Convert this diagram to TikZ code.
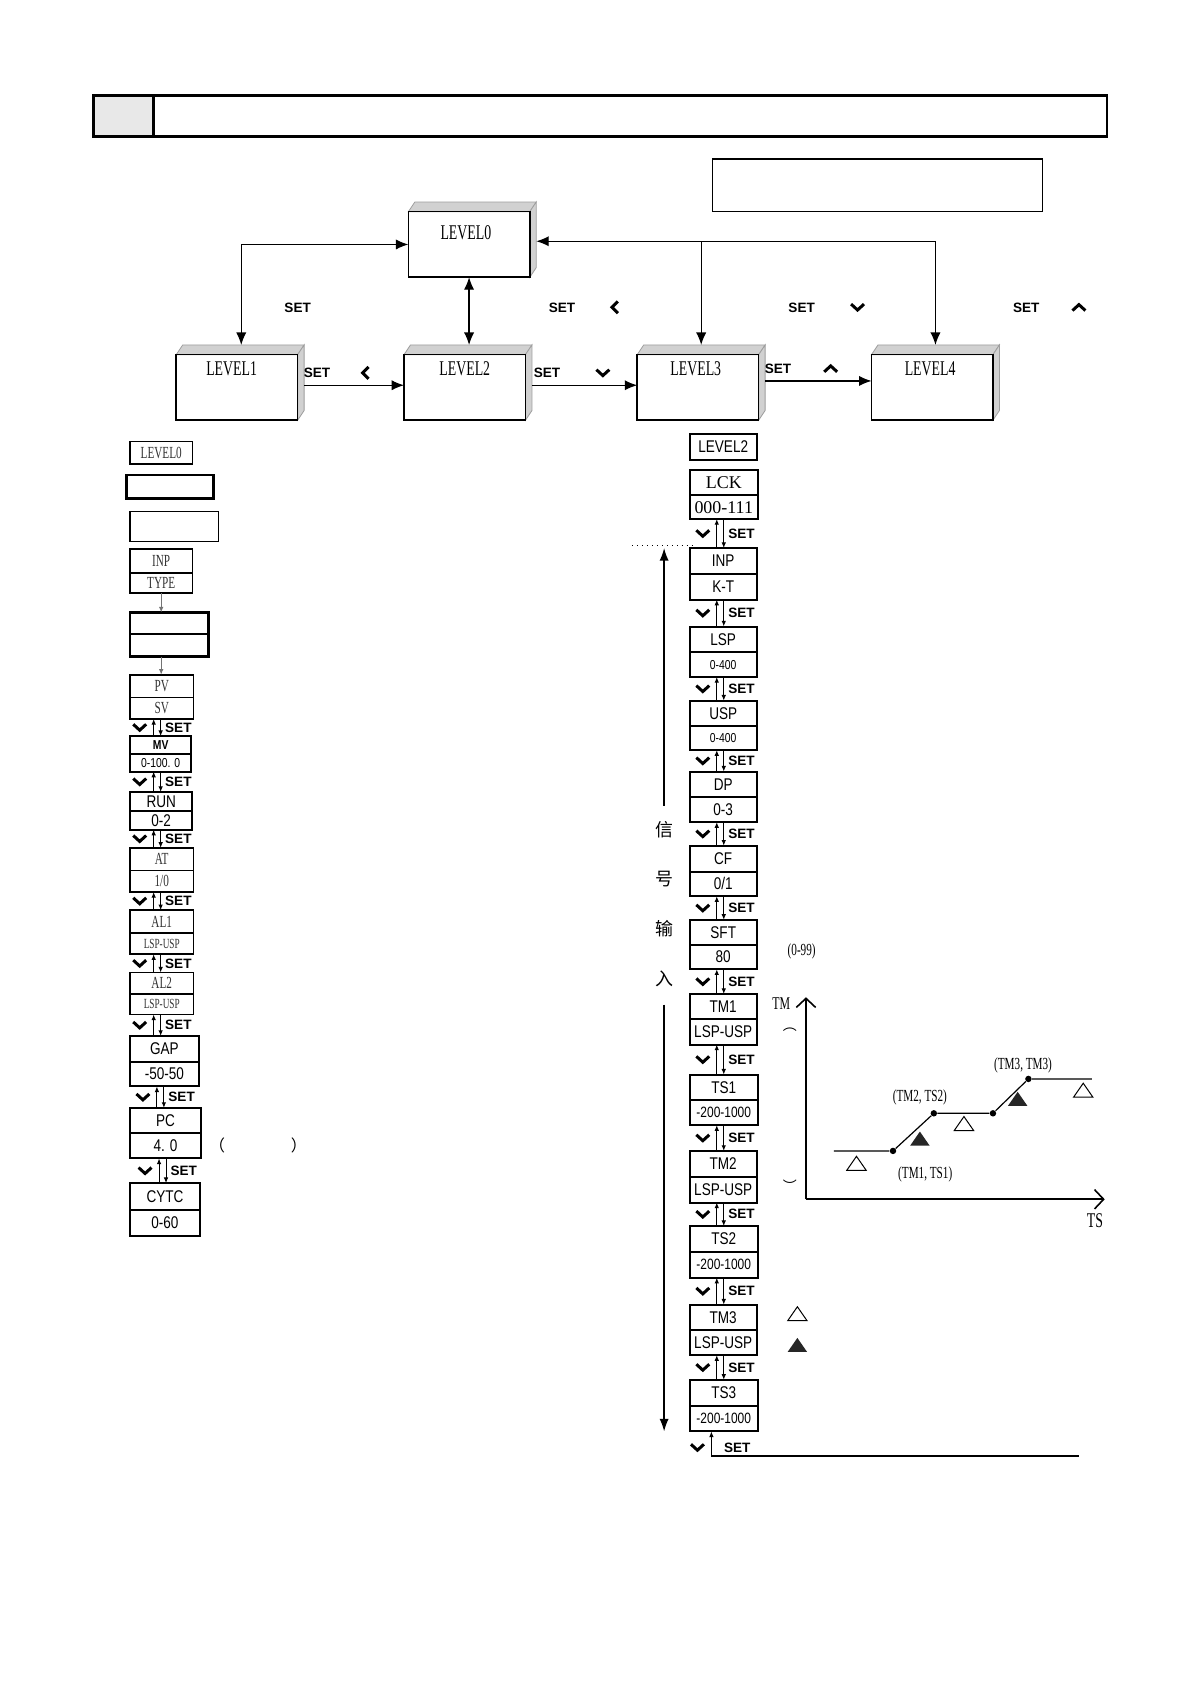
\documentclass[tikz,border=0pt]{standalone}
\usepackage{fontspec}
\setmainfont{Liberation Serif}
\newfontfamily\nserif[FakeStretch=0.66]{Liberation Serif}
\newfontfamily\nsans[FakeStretch=0.8]{Liberation Sans}
\newfontfamily\keyfont{Liberation Sans}
\newfontfamily\cjk{Noto Sans CJK SC}
\usetikzlibrary{arrows.meta,calc}
\def\px{0.1894mm}
\def\normaledge{0.6pt}
\def\boxedge{1pt}
\definecolor{facegray}{rgb}{0.82,0.82,0.82}
\definecolor{sidegray}{rgb}{0.62,0.62,0.62}
\definecolor{cellgray}{rgb}{0.91,0.91,0.91}

\newcommand{\levelbox}[4]{%
  \node[lvbox, anchor=north west] (#1) at #2 {};
  \filldraw[lvface] (#1.north west) -- ($(#1.north west)+(6,-9)$) -- ($(#1.north east)+(6,-9)$) -- (#1.north east) -- cycle;
  \filldraw[lvface] (#1.north east) -- ($(#1.north east)+(6,-9)$) -- ($(#1.south east)+(6,-9)$) -- (#1.south east) -- cycle;
  \draw[line width=0.8pt] (#1.south west) rectangle (#1.north east);
  \node[lvtext] (#1t) at ($(#1.north)+#4$) {#3};
}
\newcommand{\parambox}[8][]{%
  \node[cell, #1, minimum width=#4*\px, minimum height=#5*\px, anchor=north west] (#2a) at #3 {#7};
  \node[cell, #1, minimum width=#4*\px, minimum height=#6*\px, anchor=north west] (#2b) at (#2a.south west) {#8};
}
\newcommand{\steprow}[3]{%
  \draw[steparrow] ($(#2a.north west)+(#3+13,0)$) -- ($(#1b.south west)+(#3+13,0)$);
  \draw[steparrow] ($(#1b.south west)+(#3+19.5,0)$) -- ($(#2a.north west)+(#3+19.5,0)$);
  \pic at ($(#1b.south west)!0.5!(#2a.north west)+(#3,0)$) {keydown};
  \node[setkey] (#1set) at ($(#1b.south west)!0.5!(#2a.north west)+(#3+36,0)$) {SET};
}

\begin{document}
\begin{tikzpicture}[x=\px, y=-\px,
  bigtip/.tip={Latex[length=2.2mm,width=1.8mm]},
  cell/.style={draw, line width=\boxedge, inner sep=0pt, outer sep=0pt},
  lcell/.style={cell, line width=0.8pt, font=\nserif\fontsize{8.5}{9}\selectfont, text=black!80},
  scell/.style={cell, font=\nsans\fontsize{8.5}{9}\selectfont},
  lvbox/.style={fill=white, inner sep=0pt, outer sep=0pt, minimum width=113*\px, minimum height=61*\px},
  lvface/.style={fill=facegray, draw=sidegray, line width=0.4pt},
  lvtext/.style={font=\nserif\fontsize{10.5}{12}\selectfont},
  setkey/.style={font=\keyfont\bfseries\fontsize{6.8}{7}\selectfont, inner sep=0pt},
  keyline/.style={line width=1.5pt, line join=miter},
  steparrow/.style={line width=0.5pt, -{Latex[length=1mm,width=0.8mm]}},
  grayarrow/.style={line width=0.6pt, draw=black!55, -{Latex[length=1mm,width=0.8mm]}},
  sigarrow/.style={line width=0.7pt, -{Latex[length=2.2mm,width=1.6mm]}},
  graphaxis/.style={line width=0.8pt, -{Straight Barb[length=1.6mm,width=3.4mm]}},
  glabel/.style={font=\nserif\fontsize{8.5}{9}\selectfont, inner sep=0pt},
  dot/.style={circle, fill, inner sep=0pt, minimum size=6*\px},
  keydown/.pic={\draw[keyline] (-6,-3) -- (0,2.5) -- (6,-3);},
  keyup/.pic={\draw[keyline] (-6,3) -- (0,-2.5) -- (6,3);},
  keyleft/.pic={\draw[keyline] (3,-5.5) -- (-2.5,0) -- (3,5.5);},
  tri/.pic={\draw[line width=0.5pt, line join=miter] (-9,6) -- (9,6) -- (0,-7) -- cycle;},
  trifill/.pic={\fill[black!85] (-9,6) -- (9,6) -- (0,-7) -- cycle;}]

  \path[use as bounding box, fill=white] (0,0) rectangle (1109,1568);

  \draw[line width=1.2pt] (87,89) rectangle (1030,127);
  \filldraw[fill=cellgray, line width=1.2pt] (87,89) rectangle (143,127);
  \draw[line width=0.8pt] (663,148) rectangle (970,197);

  \levelbox{lzero}{(380,197)}{LEVEL0}{(-3,20)}
  \levelbox{lone}{(164,330)}{LEVEL1}{(-5,13)}
  \levelbox{ltwo}{(376,330)}{LEVEL2}{(0,13)}
  \levelbox{lthree}{(593,330)}{LEVEL3}{(-2,13)}
  \levelbox{lfour}{(811,330)}{LEVEL4}{(-2,13)}

  \coordinate (jn) at ($(lzero.east)+(6,-3)$);
  \draw[line width=\normaledge, bigtip-bigtip] (lzero.west) -| ($(lone.north)+(4,-9)$);
  \draw[line width=\normaledge, bigtip-bigtip] (lzero.south) -- ($(lzero.south |- ltwo.north)+(0,-9)$);
  \draw[line width=\normaledge, bigtip-bigtip] (jn) -| ($(lfour.north)+(3,-9)$);
  \draw[line width=\normaledge, -bigtip] ($(jn -| lthree.north)+(3,0)$) -- ($(lthree.north)+(3,-9)$);
  \draw[line width=\normaledge, -bigtip] ($(lone.east)+(6,-2)$) -- ($(ltwo.west)+(0,-2)$);
  \draw[line width=\normaledge, -bigtip] ($(ltwo.east)+(6,-2)$) -- ($(lthree.west)+(0,-2)$);
  \draw[line width=\normaledge, -bigtip] ($(lthree.east)+(6,-6)$) -- ($(lfour.west)+(0,-6)$);

  \node[setkey] (kset1) at (277,286) {SET};
  \node[setkey] (kset2) at (523,286) {SET};
  \pic at (572,286) {keyleft};
  \node[setkey] (kset3) at (746,286) {SET};
  \pic at (798,286) {keydown};
  \node[setkey] (kset4) at (955,286) {SET};
  \pic at (1004,286) {keyup};
  \node[setkey] (kset5) at (295,347) {SET};
  \pic at (340,347) {keyleft};
  \node[setkey] (kset6) at (509,347) {SET};
  \pic at (561,347) {keydown};
  \node[setkey] (kset7) at (724,343) {SET};
  \pic at (773,343) {keyup};

  \node[lcell, minimum width=58*\px, minimum height=21*\px, anchor=north west] (lvzero) at (121,411) {LEVEL0};
  \node[cell, line width=1.4pt, minimum width=81*\px, minimum height=22*\px, anchor=north west] (blanka) at (118,442) {};
  \node[cell, line width=0.6pt, minimum width=82*\px, minimum height=28*\px, anchor=north west] (blankb) at (121,476) {};
  \parambox[lcell]{inp}{(121,511)}{58}{22}{19}{INP}{TYPE}
  \parambox[line width=1.2pt]{blankc}{(121,570)}{73}{20}{21}{}{}
  \parambox[lcell]{pv}{(121,628)}{59}{21}{20}{PV}{SV}
  \parambox[scell]{mv}{(121,685)}{57}{17}{16}{\fontsize{6.5}{7}\selectfont\bfseries MV}{\fontsize{6.5}{7}\selectfont 0-100. 0}
  \parambox[scell]{run}{(121,737)}{58}{18}{17}{RUN}{0-2}
  \parambox[lcell]{atune}{(121,789)}{59}{21}{20}{AT}{1/0}
  \parambox[lcell]{alone}{(121,847)}{59}{21}{20}{AL1}{\fontsize{7}{8}\selectfont LSP-USP}
  \parambox[lcell]{altwo}{(121,905)}{59}{20}{19}{AL2}{\fontsize{7}{8}\selectfont LSP-USP}
  \parambox[scell]{gap}{(121,964)}{64}{24}{23}{GAP}{-50-50}
  \parambox[scell]{pc}{(121,1031)}{66}{23}{24}{PC}{4. 0}
  \parambox[scell]{cytc}{(121,1101)}{65}{25}{24}{CYTC}{0-60}

  \draw[grayarrow] (inpb.south) -- (inpb.south |- blankca.north);
  \draw[grayarrow] (blankcb.south -| inpb.south) -- (inpb.south |- pva.north);
  \steprow{pv}{mv}{9}
  \steprow{mv}{run}{9}
  \steprow{run}{atune}{9}
  \steprow{atune}{alone}{9}
  \steprow{alone}{altwo}{9}
  \steprow{altwo}{gap}{9}
  \steprow{gap}{pc}{12}
  \steprow{pc}{cytc}{14}
  \node[font=\cjk\fontsize{8}{9}\selectfont, inner sep=0pt] (pcnote) at (240,1066) {（\hspace{11.6mm}）};

  \node[scell, minimum width=62*\px, minimum height=24*\px, anchor=north west] (lvtwo) at (642,404) {LEVEL2};
  \parambox[font=\fontsize{9}{10}\selectfont]{lck}{(642,437)}{63}{24}{22}{LCK}{000-111}
  \parambox[scell]{rinp}{(642,510)}{62}{24}{24}{INP}{K-T}
  \parambox[scell]{lsp}{(642,583)}{62}{24}{23}{LSP}{\fontsize{6.5}{7}\selectfont 0-400}
  \parambox[scell]{usp}{(642,652)}{62}{24}{22}{USP}{\fontsize{6.5}{7}\selectfont 0-400}
  \parambox[scell]{dp}{(642,718)}{62}{24}{23}{DP}{0-3}
  \parambox[scell]{cf}{(642,787)}{62}{24}{23}{CF}{0/1}
  \parambox[scell]{sft}{(642,856)}{62}{23}{23}{SFT}{80}
  \parambox[scell]{tmone}{(642,925)}{62}{23}{24}{TM1}{LSP-USP}
  \parambox[scell]{tsone}{(642,1000)}{63}{24}{23}{TS1}{\fontsize{7.5}{8}\selectfont -200-1000}
  \parambox[scell]{tmtwo}{(642,1071)}{62}{24}{24}{TM2}{LSP-USP}
  \parambox[scell]{tstwo}{(642,1141)}{63}{24}{24}{TS2}{\fontsize{7.5}{8}\selectfont -200-1000}
  \parambox[scell]{tmthree}{(642,1214)}{62}{24}{23}{TM3}{LSP-USP}
  \parambox[scell]{tsthree}{(642,1284)}{63}{24}{24}{TS3}{\fontsize{7.5}{8}\selectfont -200-1000}

  \steprow{lck}{rinp}{12}
  \steprow{rinp}{lsp}{12}
  \steprow{lsp}{usp}{12}
  \steprow{usp}{dp}{12}
  \steprow{dp}{cf}{12}
  \steprow{cf}{sft}{12}
  \steprow{sft}{tmone}{12}
  \steprow{tmone}{tsone}{12}
  \steprow{tsone}{tmtwo}{12}
  \steprow{tmtwo}{tstwo}{12}
  \steprow{tstwo}{tmthree}{12}
  \steprow{tmthree}{tsthree}{12}

  \coordinate (loopend) at (1004,1355);
  \draw[line width=0.9pt] ($(tsthreeb.south west)+(20,23)$) -- (loopend);
  \draw[steparrow] ($(tsthreeb.south west)+(20,23)$) -- ($(tsthreeb.south west)+(20,0)$);
  \pic at ($(tsthreeb.south west)+(7,15)$) {keydown};
  \node[setkey] (lastset) at ($(tsthreeb.south west)+(44,15)$) {SET};

  \node[font=\cjk\fontsize{9}{10}\selectfont, inner sep=0pt] (sigone) at (618,772) {信};
  \node[font=\cjk\fontsize{9}{10}\selectfont, inner sep=0pt] (sigtwo) at (618,818) {号};
  \node[font=\cjk\fontsize{9}{10}\selectfont, inner sep=0pt] (sigthree) at (618,864) {输};
  \node[font=\cjk\fontsize{9}{10}\selectfont, inner sep=0pt] (sigfour) at (618,911) {入};
  \draw[sigarrow] ($(sigone.north)+(0,-14)$) -- (sigone.north |- rinpa.north);
  \draw[sigarrow] ($(sigfour.south)+(0,16)$) -- (sigfour.south |- tsthreeb.south);
  \draw[line width=0.5pt, dotted] ($(rinpa.north west)+(-54,-2)$) -- ($(rinpa.north west)+(4,-2)$);

  \node[glabel] (sftnote) at (746,885) {(0-99)};

  \coordinate (org) at (750,1116);
  \coordinate (tmtop) at (750,928);
  \coordinate (tsend) at (1028,1116);
  \draw[graphaxis] (org) -- (tmtop);
  \draw[graphaxis] (org) -- (tsend);
  \node[font=\nserif\fontsize{9}{10}\selectfont, inner sep=0pt] (tmlbl) at (727,934) {TM};
  \node[font=\nserif\fontsize{10.5}{11}\selectfont, inner sep=0pt] (tslbl) at (1019,1136) {TS};
  \node[font=\cjk\fontsize{7}{8}\selectfont, inner sep=0pt] (tmopen) at (735,958) {︵};
  \node[font=\cjk\fontsize{7}{8}\selectfont, inner sep=0pt] (tmclose) at (735,1103) {︶};

  \coordinate (cst) at (776,1071);
  \node[dot] (cone) at (831,1071) {};
  \node[dot] (ctwo) at (869,1036) {};
  \node[dot] (cthree) at (924,1036) {};
  \node[dot] (cfour) at (957,1004) {};
  \coordinate (cend) at (1016,1004);
  \draw[line width=0.6pt] (cst) -- (cone) -- (ctwo) -- (cthree) -- (cfour) -- (cend);
  \node[glabel] (lblone) at (861,1093) {(TM1, TS1)};
  \node[glabel] (lbltwo) at (856,1021) {(TM2, TS2)};
  \node[glabel] (lblthree) at (952,991) {(TM3, TM3)};
  \pic at (797,1083) {tri};
  \pic at (856,1060) {trifill};
  \pic at (897,1046) {tri};
  \pic at (947,1023) {trifill};
  \pic at (1008,1015) {tri};

  \pic at (742,1223) {tri};
  \pic at (742,1252) {trifill};

\end{tikzpicture}
\end{document}
